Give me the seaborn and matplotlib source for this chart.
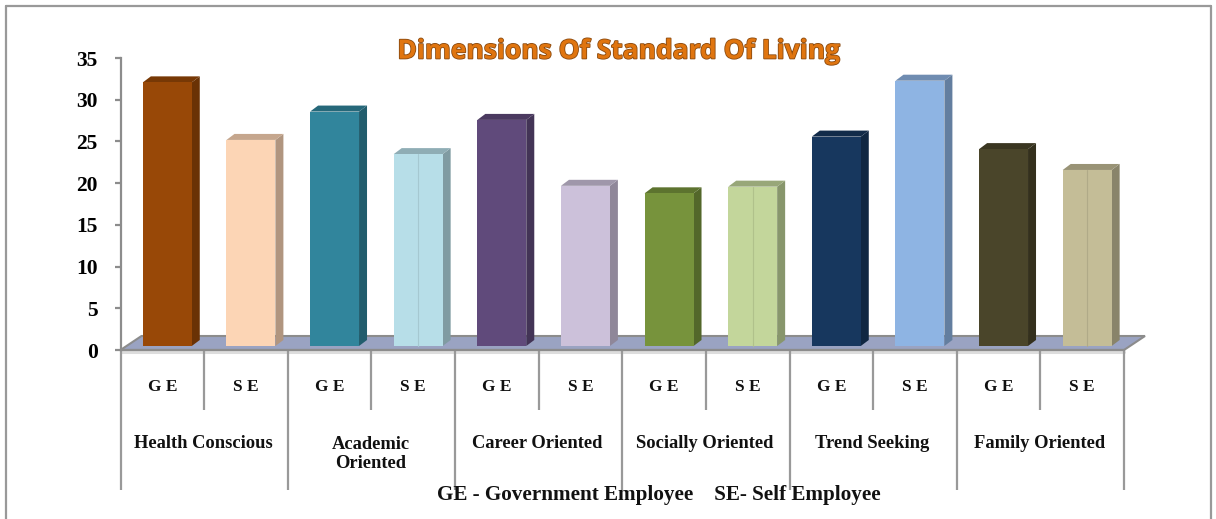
import matplotlib
matplotlib.use("Agg")
import matplotlib.pyplot as plt
import matplotlib.patheffects as pe
from matplotlib.patches import Polygon
from matplotlib.colors import to_rgb
from matplotlib.transforms import ScaledTranslation
import pandas as pd
import seaborn as sns

subgroups = ["G E", "S E"] * 6
groups = ["Health Conscious", "Academic\nOriented", "Career Oriented",
          "Socially Oriented", "Trend Seeking", "Family Oriented"]
values = [31.6, 24.7, 28.1, 23.0, 27.1, 19.2, 18.3, 19.1, 25.1, 31.8, 23.6, 21.1]
colors = ["#984807", "#FCD5B5", "#31859C", "#B7DEE8", "#604A7B", "#CCC1DA",
          "#77933C", "#C3D69B", "#17375E", "#8EB4E3", "#4A452A", "#C4BD97"]
seamed = [3, 7, 11]
yticks = [0, 5, 10, 15, 20, 25, 30, 35]
title = "Dimensions Of Standard Of Living"
note = "GE - Government Employee    SE- Self Employee"

W, H = 1216, 519
L, R, T, B = 120.5, 1124.0, 58.0, 350.0
SLOT = (R - L) / 12
SHIFT = 5.0 / SLOT
PX_Y = (B - T) / 35
DX, DY = 8 / SLOT, 6 / PX_Y
BASE = 4 / PX_Y

sns.set_theme(style="white")
plt.rcParams["font.family"] = ["Liberation Serif", "DejaVu Serif"]
plt.rcParams["font.weight"] = "bold"

fig = plt.figure(figsize=(W / 100, H / 100), dpi=100)
ax = fig.add_axes([L / W, 1 - B / H, (R - L) / W, (B - T) / H])
df = pd.DataFrame({"pos": list(range(12)), "value": values})
sns.barplot(data=df, x="pos", y="value", hue="pos", palette=colors, legend=False,
            width=0.585, saturation=1, ax=ax, bottom=BASE, linewidth=0, zorder=4)
ax.set_xlim(-0.5 - SHIFT, 11.5 - SHIFT)
ax.set_ylim(0, 35)
ax.set_xlabel("")
ax.set_ylabel("")
ax.patch.set_alpha(0)

# floor
ax.add_patch(Polygon([(-0.5 - SHIFT, 0), (11.5 - SHIFT, 0),
                      (11.5 - SHIFT + 21 / SLOT, 14 / PX_Y), (-0.5 - SHIFT + 21 / SLOT, 14 / PX_Y)],
                     closed=True, facecolor="#9AA3C2", edgecolor="#8C8C8C", linewidth=1.5,
                     zorder=1, clip_on=False))

# 3D faces derived from each bar
bars = list(ax.patches)[:12]
for idx, (patch, col) in enumerate(zip(bars, colors)):
    x0, y0 = patch.get_x(), patch.get_y()
    w, h = patch.get_width(), patch.get_height()
    r, g, b = to_rgb(col)
    side = (r * 0.7, g * 0.7, b * 0.7)
    top = (r * 0.78, g * 0.78, b * 0.78)
    ax.add_patch(Polygon([(x0 + w, y0), (x0 + w + DX, y0 + DY), (x0 + w + DX, y0 + h + DY), (x0 + w, y0 + h)],
                         closed=True, facecolor=side, edgecolor="none", zorder=3))
    ax.add_patch(Polygon([(x0, y0 + h), (x0 + DX, y0 + h + DY), (x0 + w + DX, y0 + h + DY), (x0 + w, y0 + h)],
                         closed=True, facecolor=top, edgecolor="none", zorder=3))
    if idx in seamed:
        ax.plot([x0 + w / 2] * 2, [y0, y0 + h], color=(r * 0.9, g * 0.9, b * 0.9), lw=0.8, zorder=5)

# axes
for s in ["top", "right"]:
    ax.spines[s].set_visible(False)
for s in ["left", "bottom"]:
    ax.spines[s].set_color("#8C8C8C")
    ax.spines[s].set_linewidth(1.6)
    ax.spines[s].set_zorder(2)
ax.set_yticks(yticks)
ax.set_yticklabels([str(v) for v in yticks], fontsize=15.5, fontweight="bold", color="black")
ax.tick_params(axis="y", length=4.5, width=1.6, color="#8C8C8C", pad=12, left=True)
ax.set_xticks(range(12))
ax.set_xticklabels(subgroups, fontsize=12.5, fontweight="bold", color="#111111")
ax.tick_params(axis="x", length=0, pad=21)
shift_left = ScaledTranslation(-5 / 100, 0, fig.dpi_scale_trans)
for lab in ax.get_xticklabels():
    lab.set_transform(lab.get_transform() + shift_left)

# light band below floor
ax.plot([-0.5 - SHIFT, 11.5 - SHIFT], [-2.4 / PX_Y] * 2, color="#DDDDDD", lw=2.2, clip_on=False, zorder=1)

# hierarchical separators
for k in range(13):
    xp = -0.5 - SHIFT + k
    end = 140 if k % 2 == 0 else 60
    ax.plot([xp, xp], [0, -end / PX_Y], color="#999999", lw=1.6, clip_on=False,
            solid_capstyle="butt", zorder=2)

for i, g in enumerate(groups):
    ypx = 444 if "\n" not in g else 454
    fig.text((L + SLOT * (2 * i + 1) - 1) / W, 1 - ypx / H, g, ha="center", va="center",
             fontsize=13.3, fontweight="bold", color="#111111", linespacing=1.2)

fig.text(659 / W, 1 - 495 / H, note, ha="center", va="center", fontsize=15.2,
         fontweight="bold", color="#111111")

fig.text(618 / W, 1 - 51 / H, title, ha="center", va="center", fontsize=19, fontweight="bold",
         family=["Open Sans", "DejaVu Sans"], color="#E0750F",
         path_effects=[pe.withStroke(linewidth=1.2, foreground="#8A4A10")])

# page frame
for xs, ys in [((5.5, 5.5), (5.5, 519)), ((5.5, 1211), (5.5, 5.5)), ((1211, 1211), (5.5, 519))]:
    fig.add_artist(plt.Line2D([xs[0] / W, xs[1] / W], [1 - ys[0] / H, 1 - ys[1] / H],
                              color="#999999", lw=1.6))

fig.savefig("out.png", dpi=100)
